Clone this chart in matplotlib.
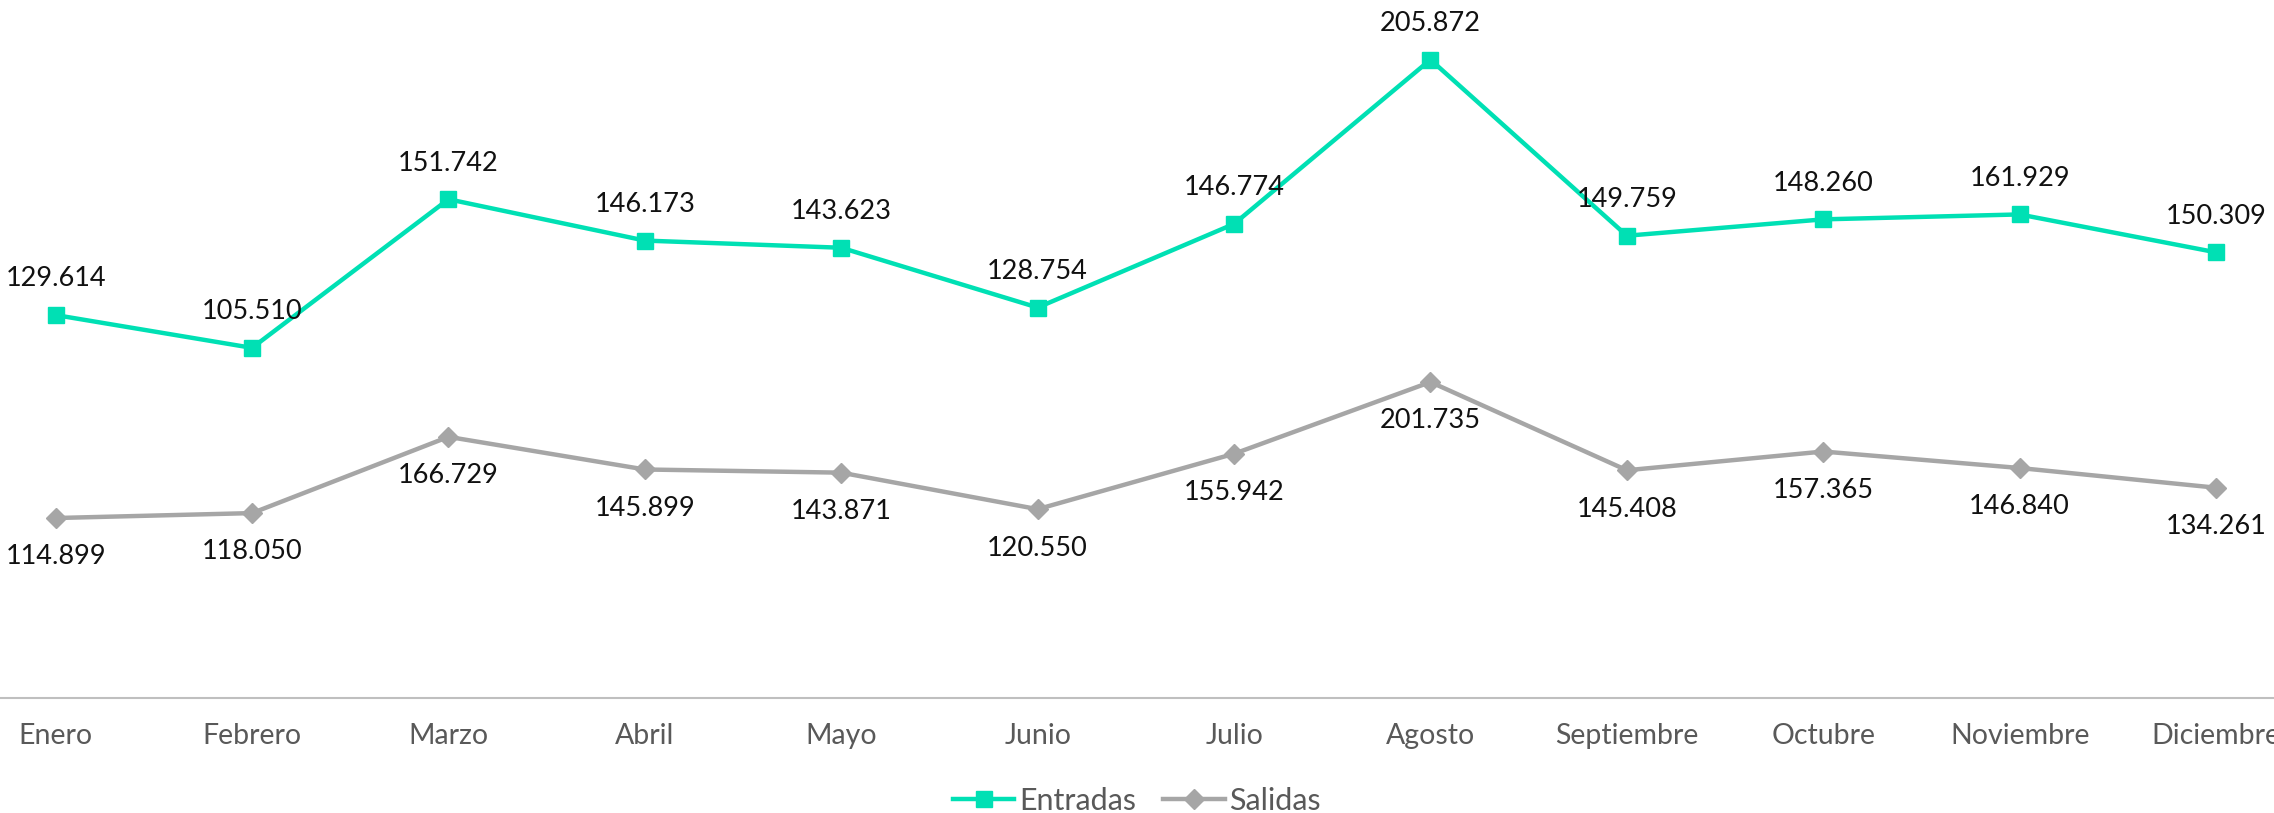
import matplotlib
matplotlib.use("Agg")
import matplotlib.pyplot as plt
import numpy as np

# Data (stacked line chart: Entradas is drawn on top of Salidas)
meses = ["Enero", "Febrero", "Marzo", "Abril", "Mayo", "Junio", "Julio",
         "Agosto", "Septiembre", "Octubre", "Noviembre", "Diciembre"]
entradas = [129.614, 105.510, 151.742, 146.173, 143.623, 128.754,
            146.774, 205.872, 149.759, 148.260, 161.929, 150.309]
salidas = [114.899, 118.050, 166.729, 145.899, 143.871, 120.550,
           155.942, 201.735, 145.408, 157.365, 146.840, 134.261]

TEAL = "#00E0B4"
GRAY = "#A6A6A6"
TXT = "#595959"
plt.rcParams["font.family"] = ["Lato", "DejaVu Sans"]

fig = plt.figure(figsize=(22.74, 8.13), dpi=100)
ax = fig.add_axes([0, 0.1415, 1, 0.8585])

x = np.arange(len(meses))
sal = np.array(salidas)
ent_stack = sal + np.array(entradas)

ax.plot(x, ent_stack, color=TEAL, lw=3.2, marker="s", ms=12, label="Entradas", zorder=3)
ax.plot(x, sal, color=GRAY, lw=3.2, marker="D", ms=10, label="Salidas", zorder=3)

def fmt(v):
    return f"{v:.3f}"

for i in x:
    ax.annotate(fmt(entradas[i]), (i, ent_stack[i]), xytext=(0, 26),
                textcoords="offset points", ha="center", va="center",
                fontsize=19.5, color="#111111")
    ax.annotate(fmt(salidas[i]), (i, sal[i]), xytext=(0, -28),
                textcoords="offset points", ha="center", va="center",
                fontsize=19.5, color="#111111")

ax.set_xlim(-0.2835, 11.295)
ax.set_ylim(0, 445.7)
ax.set_yticks([])
ax.set_xticks(x)
ax.set_xticklabels(meses, fontsize=20.5, color=TXT)
ax.tick_params(axis="x", length=0, pad=18)
for s in ["top", "left", "right"]:
    ax.spines[s].set_visible(False)
ax.spines["bottom"].set_color("#BFBFBF")
ax.spines["bottom"].set_linewidth(1.5)

fig.legend(loc="center", bbox_to_anchor=(0.5, 0.015), ncol=2, frameon=False,
           fontsize=22, labelcolor=TXT, handlelength=2.0, handletextpad=0.15,
           columnspacing=0.9)

fig.savefig("out.png", dpi=100)
